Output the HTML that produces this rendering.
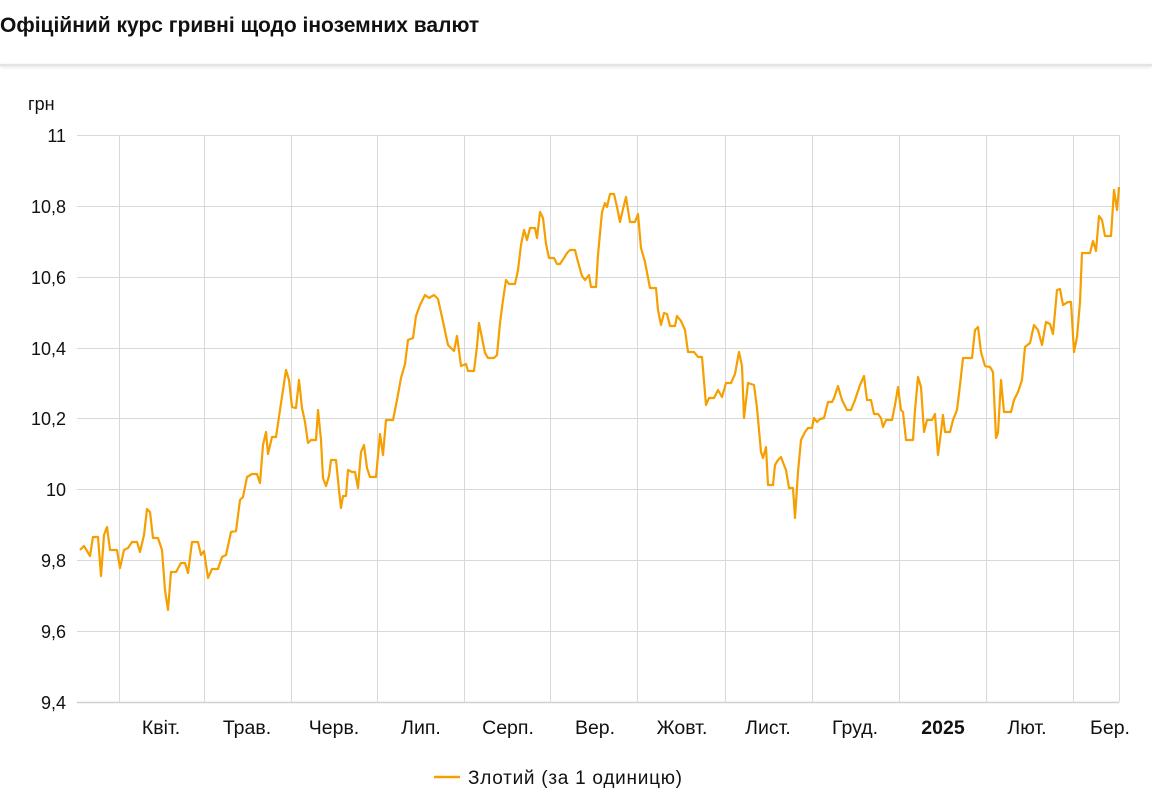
<!DOCTYPE html>
<html><head><meta charset="utf-8"><style>
body{margin:0;width:1152px;height:806px;background:#fff;overflow:hidden;font-family:"Liberation Sans",Arial,sans-serif}
.t{position:absolute;left:0;top:14px;font-size:21px;font-weight:bold;color:#111}
.bar{position:absolute;left:0;top:64px;width:1152px;height:2px;background:#e4e4e4;box-shadow:0 1px 3px rgba(0,0,0,.15)}
</style></head><body>
<div class="t">Офіційний курс гривні щодо іноземних валют</div>
<div class="bar"></div>
<svg width="1152" height="806" style="position:absolute;left:0;top:0" font-family="Liberation Sans, Arial, sans-serif">
<g stroke="#d9d9d9" stroke-width="1">
<line x1="77" y1="135.5" x2="1119" y2="135.5"/><line x1="77" y1="206.5" x2="1119" y2="206.5"/>
<line x1="77" y1="277.5" x2="1119" y2="277.5"/><line x1="77" y1="348.5" x2="1119" y2="348.5"/>
<line x1="77" y1="418.5" x2="1119" y2="418.5"/><line x1="77" y1="489.5" x2="1119" y2="489.5"/>
<line x1="77" y1="560.5" x2="1119" y2="560.5"/><line x1="77" y1="631.5" x2="1119" y2="631.5"/>
<line x1="119.5" y1="135" x2="119.5" y2="702"/><line x1="204.5" y1="135" x2="204.5" y2="702"/>
<line x1="291.5" y1="135" x2="291.5" y2="702"/><line x1="377.5" y1="135" x2="377.5" y2="702"/>
<line x1="464.5" y1="135" x2="464.5" y2="702"/><line x1="550.5" y1="135" x2="550.5" y2="702"/>
<line x1="637.5" y1="135" x2="637.5" y2="702"/><line x1="725.5" y1="135" x2="725.5" y2="702"/>
<line x1="812.5" y1="135" x2="812.5" y2="702"/><line x1="899.5" y1="135" x2="899.5" y2="702"/>
<line x1="986.5" y1="135" x2="986.5" y2="702"/><line x1="1073.5" y1="135" x2="1073.5" y2="702"/>
<line x1="1119.5" y1="135" x2="1119.5" y2="702"/>
</g>
<line x1="77" y1="702.5" x2="1119" y2="702.5" stroke="#d0d0d0" stroke-width="1.5"/>
<g font-size="18" fill="#111" text-anchor="end">
<text x="66" y="142">11</text><text x="66" y="213">10,8</text><text x="66" y="284">10,6</text>
<text x="66" y="355">10,4</text><text x="66" y="425">10,2</text><text x="66" y="496">10</text>
<text x="66" y="567">9,8</text><text x="66" y="638">9,6</text><text x="66" y="709">9,4</text>
</g>
<text x="28" y="110" font-size="18" fill="#111">грн</text>
<g font-size="19.5" fill="#111" text-anchor="middle">
<text x="161" y="734">Квіт.</text><text x="247" y="734">Трав.</text><text x="334" y="734">Черв.</text>
<text x="421" y="734">Лип.</text><text x="508" y="734">Серп.</text><text x="595" y="734">Вер.</text>
<text x="682" y="734">Жовт.</text><text x="768" y="734">Лист.</text><text x="855" y="734">Груд.</text>
<text x="943" y="734" font-weight="bold">2025</text><text x="1027" y="734">Лют.</text><text x="1110" y="734">Бер.</text>
</g>
<polyline fill="none" stroke="#f59f00" stroke-width="2.2" stroke-linejoin="round" points="80,550 84,546 90,556 93,537 98,537 101,576 104,535 107,527 110,550 117,550 120,568 124,550 128,548 132,542 137,542 140,552 144,535 147,509 150,512 153,538 158,538 162,550 165,590 168,610 171,572 176,572 181,563 185,563 188,573 192,542 198,542 201,555 204,551 208,578 212,569 218,569 222,557 226,555 231,532 236,531 240,500 243,497 247,477 252,474 257,474 260,483 263,445 266,432 268,454 272,437 276,437 280,410 286,370 289,380 292,407 296,408 299,380 302,408 305,422 308,443 311,440 316,440 318,410 321,440 323,478 326,486 329,476 331,460 336,460 339,490 341,508 343,496 346,496 348,470 352,472 355,472 358,488 361,452 364,445 367,468 370,477 376,477 380,434 383,455 386,420 393,420 397,400 401,378 405,364 408,340 413,338 416,316 420,305 425,295 429,298 434,295 438,299 442,317 448,345 454,351 457,336 461,366 466,364 468,371 474,371 477,346 479,323 482,338 485,353 488,358 494,358 497,355 500,323 503,300 506,280 509,284 515,284 518,270 521,245 524,230 527,240 530,228 535,228 537,238 540,212 543,218 546,244 549,258 554,258 557,264 560,264 564,258 567,253 570,250 575,250 578,262 582,276 585,280 589,275 591,287 596,287 598,255 602,212 605,203 607,207 610,194 614,194 617,207 620,222 623,209 626,197 628,210 630,222 635,222 638,214 641,248 645,262 650,288 656,288 658,310 661,325 664,313 667,314 670,326 675,326 677,316 681,321 685,330 688,352 694,352 698,357 702,357 706,405 709,398 714,398 718,390 722,397 726,383 731,383 735,374 739,352 742,366 744,418 748,383 754,385 757,408 761,452 763,458 766,447 768,485 773,485 775,465 778,460 781,457 784,465 786,470 789,488 793,488 795,518 798,472 801,440 805,432 808,428 812,428 814,418 817,422 820,419 824,418 828,402 832,402 834,398 838,386 842,400 847,410 851,410 855,400 860,385 864,376 867,400 871,400 874,414 878,414 881,418 883,427 886,420 892,420 895,405 898,387 901,410 903,412 906,440 913,440 915,410 918,377 921,387 924,432 927,420 932,420 935,414 938,455 941,432 943,415 945,432 950,432 953,420 957,410 960,385 963,358 967,358 972,358 975,330 978,327 981,352 985,366 990,367 993,372 996,438 998,433 1001,380 1004,412 1011,412 1014,400 1018,392 1022,380 1025,347 1030,343 1034,325 1038,330 1042,345 1046,322 1050,324 1053,334 1057,290 1060,289 1063,305 1068,302 1071,302 1074,352 1077,337 1080,302 1082,253 1090,253 1093,241 1096,251 1099,216 1102,220 1105,236 1111,236 1114,190 1117,210 1119,187"/>
<line x1="434" y1="777" x2="460" y2="777" stroke="#f59f00" stroke-width="2.5"/>
<text x="468" y="784" font-size="19" fill="#111" textLength="214">Злотий (за 1 одиницю)</text>
</svg>
</body></html>
